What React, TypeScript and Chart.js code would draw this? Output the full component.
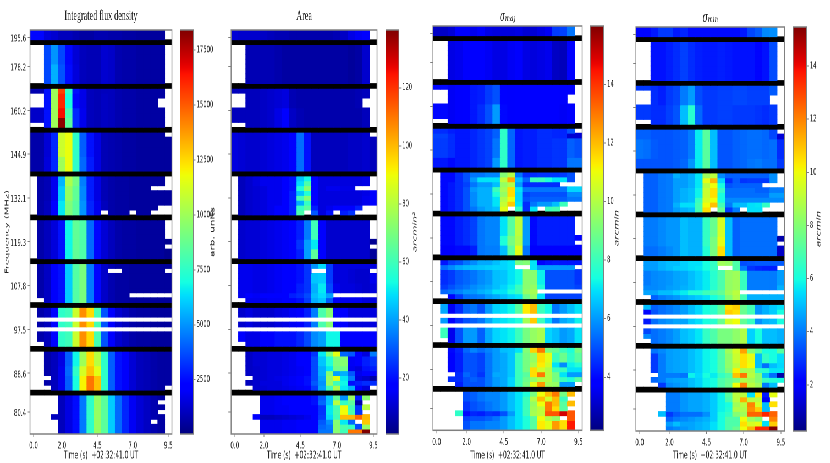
import React, { useEffect, useRef } from "react";
import { Chart, registerables } from "chart.js";
Chart.register(...registerables);

const S = 0.55;
const timeTicks = [0, 2, 4.5, 7, 9.5];
const colTimes = [0,.5,1,1.5,2,2.5,3,3.5,4,4.5,5,5.5,6,6.5,7,7.5,8,8.5,9,9.5];
const freqTickRows = [1, 7, 16, 25, 34, 43, 52, 61, 70, 78];
const freqLabels = ["195.6","178.2","160.2","144.9","132.1","119.3","107.8","97.5","88.6","80.4"];
const bandRows = [2, 11, 20, 29, 38, 47, 56, 65, 74];
// [fromRow, toRow, fromCol, toCol]: cells without a value
const missing = [[0,1,19,19],[3,10,0,1],[3,10,19,19],[12,19,19,19],[13,15,0,1],[14,15,18,18],[19,19,0,1],[21,21,19,19],[30,37,0,0],[30,31,19,19],[32,32,17,19],[36,36,18,19],[37,37,10,10],[37,37,14,14],[37,37,17,19],[39,46,0,0],[39,42,19,19],[44,44,19,19],[48,55,0,0],[49,49,11,12],[49,49,19,19],[54,54,14,19],[55,55,1,1],[57,64,0,0],[59,59,0,19],[61,61,0,19],[64,64,1,1],[66,73,0,1],[71,71,2,2],[73,73,2,2],[73,73,19,19],[75,82,0,2],[75,78,3,3],[80,82,3,3],[75,82,19,19],[76,76,18,18],[78,78,18,18],[80,80,17,17]];

// each entry: [how many rows repeat it, values by column]
const fluxK = [
[2,[2.4,2.4,1.5,1.3,1,1,.8,.6,.6,.8,.8,.7,.7,.6,.6,.5,.5,.5,.5,.5]],
[4,[0,0,3.6,5,3.6,2.4,1.4,1,.9,.9,1.3,1.2,.8,.7,.7,.6,.6,.6,.6,.6]],
[4,[0,0,3.6,5.5,3.8,2.5,1.5,1,.9,.9,1.3,1.2,.8,.7,.7,.6,.6,.6,.6,.6]],
[1,[.8,.8,2.6,10,15.5,7.5,2.6,1.7,1,.9,1,1,.8,.7,.7,.6,.6,.6,.6,.6]],
[3,[1,1,2.6,10,16,7,2.4,1.7,1,.9,1.1,1,.8,.7,.7,.6,.6,.6,.6,.6]],
[2,[1.2,1.2,2.6,10,16.5,8,3,1.8,1,.9,1.1,1,.8,.7,.7,.6,.6,.6,.6,.6]],
[2,[1.2,1.2,2.6,10,18.2,8.5,3,1.8,1,.9,1.1,1,.8,.7,.7,.6,.6,.6,.6,.6]],
[5,[.7,.7,1.4,3,11,11.7,7.5,4,2.6,1.6,.9,.8,.7,.6,.6,.5,.5,.5,.5,.5]],
[3,[.7,.7,1.5,3,10,11.7,7.5,4.2,2.8,1.6,.9,.8,.7,.6,.6,.5,.5,.5,.5,.5]],
[2,[.7,.7,.9,1.8,5.6,10.3,9,4.6,2.8,1.6,.9,.7,.6,.6,.5,.5,.5,.5,.5,.5]],
[3,[.7,.7,.9,1.8,6,9.8,8.6,4.8,2.8,1.6,.9,.7,.6,.6,.5,.5,.5,.5,.5,.5]],
[3,[.7,.7,1,2.2,6.5,9.3,8.4,5,3,1.8,1,.7,.6,.6,.5,.5,.5,.5,.5,.5]],
[8,[.7,.7,1,1.5,2.6,6.8,8.6,8.2,4.2,2.4,1.4,1,.7,.6,.6,.5,.5,.5,.5,.3]],
[8,[.7,.7,1.1,2,2.6,6,8.3,9.2,4.5,2.4,1.2,.8,.6,.6,.5,.5,.5,.5,.5,.5]],
[8,[.7,.7,1,2.4,7.5,7.8,11,14,12.5,8,3.8,2.2,1.3,1,.7,.6,.6,.5,.5,.5]],
[3,[.7,.7,.7,1,1.6,4,6.8,10,12.5,10.5,7.5,4,2.6,2,1.4,1,.9,.7,.6,.6]],
[2,[.7,.7,.7,1,1.8,4.2,7.5,11.2,13,11.5,7.5,4,2.6,2,1.4,1,.9,.7,.6,.6]],
[3,[.7,.7,.7,1,1.8,4,7,12,14.5,13,7.5,4,2.6,2,1.4,1,.9,.7,.6,.6]],
[8,[0,0,0,1,1,1.6,2.5,4.5,7.5,9.8,8.5,6,4.2,3,1.9,1.4,1.1,.8,.6,.6]],
];

const areaValues = [
[2,[11,10,10,10,9,8,7,7,6,6,6,6,6,6,7,9,13,15,16,16]],
[8,[7,7,7,7,7,7,6,5,5,5,5,5,5,5,5,5,4,5,10,10]],
[4,[8,8,8,8,9,10,11,12,7,6,6,6,6,6,6,6,6,7,8,8]],
[4,[8,8,8,8,9,10,13,16,9,7,6,6,6,6,6,6,6,6,8,8]],
[8,[12,11,10,10,11,12,13,14,16,33,20,8,8,8,8,8,9,9,10,8]],
[1,[8,8,10,12,14,14,14,16,20,45,52,16,12,12,12,12,12,12,13,12]],
[1,[8,8,10,12,14,14,14,16,20,48,62,16,12,12,12,12,12,12,13,12]],
[1,[8,8,10,11,12,14,14,16,20,55,72,16,12,14,14,13,13,13,13,12]],
[1,[8,8,10,11,12,14,14,16,22,45,55,16,12,12,12,12,12,12,13,16]],
[1,[8,8,10,11,12,14,14,18,22,60,72,16,12,12,12,12,12,12,14,17]],
[1,[8,8,10,11,12,14,14,18,22,42,58,16,12,12,12,12,12,12,14,16]],
[1,[8,8,10,11,12,14,16,18,22,58,65,22,12,14,16,16,18,22,14,14]],
[1,[8,8,10,11,12,14,16,18,22,62,65,30,12,20,20,22,25,20,14,14]],
[4,[8,10,11,11,12,13,14,15,18,22,35,60,17,10,10,10,10,10,10,10]],
[2,[8,10,11,11,12,13,14,15,18,25,40,50,17,10,10,10,10,10,10,3]],
[2,[8,10,11,11,12,13,14,15,18,22,40,65,17,10,10,10,10,10,10,4]],
[1,[8,14,14,13,13,14,15,16,18,20,25,38,48,26,12,12,12,12,12,12]],
[3,[8,14,14,13,13,14,15,16,18,20,25,45,46,26,12,12,11,10,10,14]],
[2,[8,14,14,13,13,14,15,16,18,22,25,42,50,28,14,12,12,11,10,12]],
[1,[8,14,16,15,16,16,17,18,22,24,28,44,48,40,40,12,12,12,12,12]],
[1,[8,8,14,14,14,15,15,16,18,20,26,42,45,30,15,14,14,14,12,12]],
[4,[8,10,12,10,10,10,12,13,15,16,22,35,62,72,18,18,12,12,12,12]],
[1,[8,8,10,10,10,12,13,14,15,16,20,45,60,70,22,20,14,12,12,14]],
[3,[8,18,13,13,16,16,20,20,20,23,28,37,40,52,52,18,18,16,16,16]],
[1,[0,0,9,11,11,12,12,13,14,16,18,25,50,70,88,32,30,18,12,35]],
[2,[0,0,9,11,11,12,12,13,14,16,18,28,45,55,70,72,15,18,22,25]],
[1,[0,0,9,10,11,12,12,13,14,15,18,28,42,50,68,68,14,12,20,22]],
[1,[0,0,9,10,11,12,12,13,14,15,18,28,42,72,40,42,30,14,18,18]],
[1,[0,0,9,10,11,12,13,14,15,16,20,28,40,75,88,50,35,12,10,5]],
[1,[0,0,8,10,12,12,12,14,15,16,20,30,38,75,60,52,20,22,24,24]],
[1,[0,0,9,10,11,12,12,13,14,15,18,26,40,60,78,50,42,18,12,12]],
[1,[0,0,0,0,14,14,15,16,16,16,17,20,30,45,65,38,75,22,72,0]],
[1,[0,0,0,0,14,14,15,16,16,16,17,20,32,45,80,58,65,6,60,0]],
[1,[0,0,0,0,14,14,15,15,16,16,17,18,25,50,60,90,60,25,80,0]],
[1,[0,0,0,0,14,14,15,15,16,16,17,18,25,50,62,90,62,25,60,0]],
[1,[0,0,0,18,8,8,9,10,11,12,14,18,26,48,60,100,100,112,100,0]],
[1,[0,0,0,0,14,14,14,15,15,16,17,18,30,38,72,50,32,30,98,0]],
[1,[0,0,0,0,14,14,14,15,15,16,17,18,32,35,72,62,58,28,75,0]],
[1,[0,0,0,0,14,14,14,15,15,16,17,18,34,34,72,60,110,110,140,0]],
];

const sigmaMaj = [
[2,[3,3,3.2,3.8,3.8,3.5,3.7,3.4,3.3,3.3,3.3,3.4,3.2,3.2,3.4,3.6,4.7,4.8,5.5,5]],
[8,[3,3,3.4,3.5,3.7,3.9,3.9,3.6,3.4,3.4,3.6,3.7,3.4,3.3,3.4,3.5,3,2.9,3.8,3.8]],
[4,[4,4,3.6,3.7,3.9,4.2,4.3,4.7,5,3.9,3.7,3.8,3.9,3.9,3.9,3.9,3.8,3.7,3.7,4]],
[4,[4,4,3.6,3.7,3.9,4.2,4.5,5,6,4,3.7,3.8,3.9,3.9,3.9,3.9,3.8,3.6,3.7,4]],
[1,[4.5,4.5,4.3,4.2,4.2,4.4,4.6,4.8,5.2,7.8,5.3,4.2,4.3,4.3,4.5,4.5,4.4,4.4,5,3.5]],
[1,[4.8,4.8,4.5,4.2,4.2,4.4,4.6,4.8,5.2,7.8,5.3,4.2,4.3,4.3,4.5,4.5,4.4,4.4,3.2,3.2]],
[4,[4.7,4.7,4.5,4.2,4.2,4.4,4.6,4.8,5.5,7.8,5.3,4.2,4.3,4.3,4.5,4.5,4.6,4.6,5.2,5]],
[2,[4.2,4.2,4,4.2,4.2,4.4,4.6,4.8,6,7.8,5.3,4.2,4.3,4.3,4.5,4.5,4.6,4.6,5.5,5.5]],
[1,[4,4,4,4.5,5,5.5,5.5,5.7,5.7,9.2,10,5.5,4.5,4.5,4.6,4.6,4.6,4.7,5,5]],
[1,[4,4,4,4.5,5,6,7,7,7,10.2,12.3,6.5,5.3,8,8,7.5,7,7,5,5]],
[1,[4,4,4.2,4.5,4.8,5.5,6,6,6.5,9.5,10,6,4.5,4.5,4.5,4.5,4.5,4.5,5,5]],
[1,[4,4,4.2,4.5,5,6,6.3,6.3,8,9.8,11.5,7,5.5,5.5,5.5,5.5,5.5,5.5,6.8,6.8]],
[1,[4,4,4.2,4.5,5,5.8,6.3,6.3,7.5,9.5,11.5,6.8,4.8,5,5,5,5,5,5.8,5.8]],
[1,[4,4,4.2,4.5,5,5.8,6.3,6.3,7,10,11,6.8,5,5.2,5.2,5.2,5.2,5.2,5.5,5.5]],
[1,[4,4,4.2,4.5,5,5.8,6.3,6.3,7,10.3,11.8,7,4.5,5.5,6,6,6.5,8,5.5,5.5]],
[1,[4,4,4.2,4.5,5,5.5,6,6.3,6.5,10.8,11,7.8,4.5,7,7,8,8.2,8,5.5,5.5]],
[4,[4,4,4,4.3,4.5,4.8,5.5,5.7,5.7,7,8.5,10.2,6,4,4.3,4.3,4.3,4.3,4.3,4.3]],
[2,[4,4,4,4.3,4.5,4.8,5.5,5.7,5.7,7.5,9,10,6,4,4.3,4.3,4.3,4.3,4.3,3.9]],
[2,[3.7,3.7,3.8,4,4,4.3,5.5,5.6,5.6,6.5,8.5,10.8,5.5,3.7,3.9,3.9,3.9,3.8,3.8,3.8]],
[1,[4.2,4.2,4.8,5,5.5,5.8,6.2,6.2,6.5,6.8,7,9,9.2,7,3.8,4.1,4.2,4.2,4.2,4.2]],
[1,[5.4,5.4,5.8,6.2,6.4,6.5,6.6,6.7,6.8,6.8,7,7,7,7,6,6,6,6,6,6]],
[3,[4.5,4.5,4.7,5.1,5.3,5.5,5.8,6,6.5,6.6,7,7.3,9.3,9.3,7.2,5,5,5,5,4.6]],
[1,[4.7,4.7,5,5.3,5.5,5.8,6,6.2,6.5,6.8,7.2,8,9.3,9.5,7.5,5,5,5,5,4.8]],
[1,[5.3,5.3,5.5,5.7,6,6,6.3,6.5,7,7,7.5,8,9.5,9.8,9,5,5,5,5,5]],
[1,[3.9,3.9,3.9,4.7,5.4,5.5,5.6,6,6.2,6.5,6.8,7,8.8,9.5,7,4.8,4.8,4.8,4.8,4.8]],
[2,[6,6.2,3.6,4.5,5.3,5.5,5,6,6.8,7,7.3,8.5,11.3,12,8,7.3,5.5,6,6.5,7]],
[2,[6,6,3.8,4.5,5,5.2,5.5,6.2,6.8,7,7.2,7.5,9.8,11.8,8,6.8,5.5,6.2,6.5,7.2]],
[1,[7,7,7,7,7,7,7,7,7,7,7,7,7,7,7,7,7,7,7,7]],
[3,[8,8,3.5,5,6,6,5.2,6.2,6.8,7,7.2,8,9,9.5,9.8,6.8,6.5,6,6.2,7]],
[1,[0,0,4,4.4,5.3,5.7,5.4,5.7,6,6.5,6.6,7,9.2,11.7,13,9,8.7,8,7.5,9]],
[2,[0,0,3.8,4.3,5,5,4.8,5.5,6,6.2,6.6,8,9,9.5,11.5,10.8,8,8.8,7.8,8.5]],
[1,[0,0,3.8,4.3,5,5,4.8,5.5,6,6.2,6.6,8,9,9.8,11.3,10.5,7,5.8,7.2,7.6]],
[1,[0,0,3.8,4.3,5,5,4.8,5.5,6,6.2,6.6,8,9,11.5,10.5,10,8,8,7,7]],
[1,[0,0,3.8,4.5,5.3,5,4.6,5.5,6.2,6.2,6.6,8,8.5,11.5,13,10,9,7,6,6]],
[1,[0,0,4.5,4.5,5,5.2,5,5.5,6,6.2,6.8,8,8.8,9.5,10,10,9,8,7.5,8.5]],
[1,[0,0,4,4.3,5,5,5,5.5,6,6.2,6.8,8,9,10.8,12.5,9.7,9.5,6,6,6]],
[1,[0,0,0,0,5,5.2,5.5,5.7,5.7,6,6.5,7,7.5,9,11,12,13,9,12,0]],
[1,[0,0,0,0,5,5.2,5.5,5.7,5.7,6,6.5,7,8,10,12,10.5,12,8,8,0]],
[1,[0,0,0,0,4.6,5,5.2,5.5,5.7,6,6.5,7,8,9.5,11,13,12,8.5,12,0]],
[1,[0,0,0,0,4.6,5,5.2,5.5,5.7,6,6.5,7,8,9.7,10.2,13,11.5,8.5,8,0]],
[1,[0,0,0,7.8,4,4.4,4.3,4.6,4.5,5,6,7,8,9.8,10.2,13.5,13.5,15,13.5,0]],
[1,[0,0,0,0,4.8,5,5,5.2,5.5,6,6.5,7,7.5,8.5,11,10,9.5,8,13.5,0]],
[2,[0,0,0,0,5,5.5,5.5,5.7,5.7,6,6.5,7,7.5,8.5,11.3,10.8,12.5,11.5,14.4,0]],
];

const sigmaMin = [
[2,[2.2,2.2,2.5,3,3,2.5,2.7,2.3,2.3,2.3,2.3,2.3,2.3,2.3,2.5,3.2,3.5,4.2,4.3,4]],
[8,[2.4,2.4,2.4,2.4,2.6,2.8,3.1,2.8,2.6,2.5,2.5,2.6,2.5,2.4,2.4,2.4,2.2,2.4,3.3,3.3]],
[4,[3,3,2.8,2.6,3,3.2,4,4.5,3.3,3,3,3.1,3.1,3.2,3.2,3.1,3.1,3.1,3.5,3.5]],
[4,[3,3,2.8,2.8,3.1,3.4,5,6.3,3.7,3,3,3.1,3.1,3,3,3,2.9,2.8,3,3]],
[2,[3.6,3.6,3.4,3.4,3.4,3.5,3.6,4,5.7,7.2,5,3.4,3.4,3.6,3.7,3.8,3.8,3.7,3.2,1.4]],
[4,[3.9,3.8,3.5,3.4,3.4,3.5,3.6,4,5.7,7.2,5,3.4,3.4,3.6,3.7,3.8,3.8,3.7,3.8,2.8]],
[2,[3.4,3.4,3.4,3.4,3.4,3.5,3.7,4.4,5.7,7.2,5,3.4,3.4,3.6,3.7,3.9,4,3.8,3.8,3]],
[1,[3.6,3.6,3.6,3.9,4,4.8,4.5,4.8,5.6,8.5,9,4.2,3.6,3.6,3.6,3.6,3.6,3.6,4.3,4.3]],
[1,[3.6,3.6,3.6,3.9,4,4.5,4.5,4.8,5.6,9.8,11.2,5.4,2.8,3.5,2.9,3,3,3,4.3,4.3]],
[1,[3.6,3.6,3.6,3.9,4,4.5,4.5,4.8,5.6,9,10,6,3.4,3.6,3.6,3.6,3.6,3.4,3.2,3.2]],
[1,[3.6,3.6,3.6,3.9,4,4.5,4.8,5,5.8,9.3,10.5,6.6,3.8,3.8,3.8,3.8,3.6,3.6,4,4]],
[1,[3.6,3.6,3.6,3.9,4,4.5,4.8,5,5.8,9.3,10.5,6,3.8,3.8,3.8,3.8,3.8,3.8,4.5,4.5]],
[1,[3.6,3.6,3.6,3.9,4,4.5,4.8,5,6.5,9.5,10,6,4.2,4.2,4.2,4.2,4.2,4.2,4.2,4.2]],
[1,[3.6,3.6,3.6,3.9,4,4.8,5.5,5.5,6.8,10,11,6.8,4,5,5,5.5,5.6,6.5,4.2,4.2]],
[1,[3.6,3.6,3.6,3.9,4,4.5,4.8,5,6.8,10.5,9,7.5,3,4,4,5.5,5.5,4,4.2,4.2]],
[4,[4,4,4,4.2,4.4,4.4,5,4.8,4.8,6.5,7.5,9.5,5,3.6,3.8,3.8,3.8,3.8,3.8,3.8]],
[2,[4,4,4,4.2,4.4,4.4,5,4.8,4.8,6.5,7.8,9.8,5,3.6,3.8,3.8,3.8,3.8,3.8,.8]],
[2,[3.8,3.8,3.8,4,4.2,4.4,5,4.8,4.8,6.2,7.8,10.5,5,3.6,3.8,3.8,3.8,3.8,3.8,1.2]],
[1,[4.5,4.5,4.5,4.8,5,5,5.3,5.5,5.5,6,6.5,8.5,8.3,7,3.3,3.4,3.5,3.5,3.5,3.5]],
[1,[4.5,4.5,4.5,4.8,5,5.2,5.3,5.5,5.6,6,6.5,7,7,7,4,2.9,2.7,2.6,2.6,2.6]],
[3,[4,4,4.2,4.3,4.4,4.6,4.7,5,5.3,5.7,6.3,7,8.3,8.5,6.6,4,4,4,4,4.5]],
[1,[4.2,4.2,4.2,4.3,4.5,4.6,4.8,5,5.3,5.7,6.3,7,8.3,8.5,6.6,4,4,4,4,4.8]],
[1,[4.6,4.6,4.6,5,5,5.3,5.7,6.2,6.2,6.7,7,7.4,8.5,9,9.3,8.3,6,6,6,6]],
[1,[3.6,3.6,3.6,4,4.2,4.4,4.8,5,5.2,5.5,6,6.6,8,8.8,6.8,4.8,4.8,4.8,4.8,4.8]],
[1,[5,5,3.6,3.8,4,4.2,4.5,5,5.4,6,6.4,7.3,10.5,10.8,7.5,6.8,4.4,4.8,5.2,5.5]],
[1,[2.2,2.2,3.4,3.8,4,4.2,4.5,5,5.4,6,6.4,7.3,10.8,10.5,7.5,6.8,4.4,4.8,5.2,6]],
[2,[2.5,2.5,3.8,4.2,4.4,4.6,4.6,5.2,5.5,6,6.3,7.5,9.5,10,7.4,6.6,4.3,4.8,5,6]],
[1,[4.2,4.2,3.8,4,4.2,4.5,5,5.2,5.6,6.5,7,7.8,7.8,8.2,8.8,5.3,6,5,5,4.8]],
[1,[3.2,3.2,3.8,4,4.2,4.5,5,5.2,5.6,6.5,7,7.8,7.8,8.2,8.8,5.3,6,5,5,4.8]],
[2,[4.2,4.2,3.8,4,4.2,4.5,5,5.2,5.6,6.5,7,7.8,7.8,8.2,8.8,5.3,6,5,5,4.8]],
[1,[0,0,3.9,4.2,4.5,4.6,4.7,5,5.3,5.8,6,7,8.5,9.5,11.5,8,7.2,6,6,7.2]],
[2,[0,0,3,4,4.5,4.6,4.7,5,5.3,5.8,6,7,8.2,9.3,10.5,9.8,5,6.5,6,5.5]],
[1,[0,0,3,4,4.5,4.6,4.7,5,5.3,5.8,6,7,8.2,9,10.5,10,5,3.8,5,5.4]],
[1,[0,0,3,4,4.5,4.6,4.7,5,5.3,5.8,6,7,8,10.2,8.7,8.8,6.5,6.3,5.6,5.6]],
[1,[0,0,3,4,4,4,3.9,5.8,5.4,6,5.7,6.5,7,11,12.2,9,8,5,3.8,.8]],
[1,[0,0,3.7,4,4.5,4.6,4.7,5,5.3,5.8,6,7,7.4,7.8,8.8,8.6,8,6.6,6.2,6]],
[1,[0,0,3,3,4.2,4.4,4.6,5,5.3,5.8,6,7,7.5,10,12,9,8.5,4,5,5]],
[1,[0,0,0,0,4,4,4.4,4.6,4.6,4.8,5.2,5.8,7.2,9,9,5.5,10.3,2.5,9.8,0]],
[1,[0,0,0,0,4,4,4.4,4.6,4.6,4.8,5.2,5.8,7,9,11.3,9,9,1.8,8,0]],
[1,[0,0,0,0,4,4,4.4,4.6,4.6,4.8,5.2,5.8,6,8.5,9,12,9.5,5,10.5,0]],
[1,[0,0,0,0,4,4,4.4,4.6,4.6,4.8,5.2,5.8,6.2,8.8,8.8,11.8,10.8,5,8,0]],
[1,[0,0,0,5,3,3.5,3.8,3.8,3.8,4.3,5.2,6,6.5,8,8.5,12.5,12.5,13.5,12.5,0]],
[1,[0,0,0,0,3.6,4,4.2,4.4,4.6,4.8,5.2,6,7,7,10,8.5,8,6,12,0]],
[1,[0,0,0,0,4.5,5,4.6,4.6,4.8,5,5.5,6,7,7,10.5,9.5,9.8,5.5,10.8,0]],
[1,[0,0,0,0,4,4.2,4.4,4.6,4.8,5,5.5,6,7,7.5,10,11.2,13.5,13.5,15.5,0]],
];

const fluxTicks = [2500,5000,7500,10000,12500,15000,17500];
const areaTicks = [20,40,60,80,100,120];
const majTicks = [4,6,8,10,12,14];
const minTicks = [2,4,6,8,10,12,14];

const panels = [
  { title:"Integrated flux density", rows:fluxK, mult:1000, vmin:30, vmax:18410, ticks:fluxTicks, unit:"arb. units", plot:[30,172,30,434], cb:[180,193.5], labelX:213, titleY:16, titleFont:"'Liberation Serif'", italic:false, showY:true },
  { title:"Area", rows:areaValues, mult:1, vmin:.7, vmax:139.9, ticks:areaTicks, unit:"arcmin²", plot:[231,377,30,434], cb:[385.3,398.7], labelX:415, titleY:16, titleFont:"'Liberation Serif'", italic:false, showY:false },
  { title:"σₘₐⱼ", rows:sigmaMaj, mult:1, vmin:2.19, vmax:15.99, ticks:majTicks, unit:"arcmin", plot:[433,582,26,430.3], cb:[590.3,603.7], labelX:617, titleY:17, titleFont:"'DejaVu Serif'", italic:true, showY:false },
  { title:"σₘᵢₙ", rows:sigmaMin, mult:1, vmin:.26, vmax:15.47, ticks:minTicks, unit:"arcmin", plot:[635.7,784.3,27,431], cb:[793.3,806.7], labelX:819, titleY:18, titleFont:"'DejaVu Serif'", italic:true, showY:false },
];

const lerp = (pts: number[][], t: number) => {
  for (let i = 1; i < pts.length; i++) {
    if (t <= pts[i][0]) {
      const [a, b] = [pts[i - 1], pts[i]];
      return a[1] + ((t - a[0]) / (b[0] - a[0])) * (b[1] - a[1]);
    }
  }
  return pts[pts.length - 1][1];
};
const R = [[0,0],[.35,0],[.66,1],[.89,1],[1,.5]];
const G = [[0,0],[.125,0],[.375,1],[.64,1],[.91,0],[1,0]];
const B = [[0,.5],[.11,1],[.34,1],[.65,0],[1,0]];
const jet = (t: number) => {
  const c = Math.min(1, Math.max(0, t));
  return `rgb(${Math.round(255*lerp(R,c))},${Math.round(255*lerp(G,c))},${Math.round(255*lerp(B,c))})`;
};

const GRAY = "#808080";
const frame = {
  id: "frame",
  afterDraw(chart: any) {
    const a = chart.chartArea, c = chart.ctx;
    c.save();
    c.strokeStyle = GRAY;
    c.lineWidth = 1.5;
    c.strokeRect(a.left, a.top, a.right - a.left, a.bottom - a.top);
    c.restore();
  },
};

// the colour-bar caption reads upward although its axis sits on the right
const unitLabel = {
  id: "unitLabel",
  afterDraw(chart: any, _args: any, opts: any) {
    const a = chart.chartArea, c = chart.ctx;
    c.save();
    c.translate(opts.x, (a.top + a.bottom) / 2);
    c.rotate(-Math.PI / 2);
    c.textAlign = "center";
    c.textBaseline = "middle";
    c.fillStyle = "#222";
    c.font = `${opts.italic ? "italic " : ""}10.5px 'DejaVu Sans'`;
    c.fillText(opts.text, 0, 0);
    c.restore();
  },
};

const isMissing = (r: number, c: number) =>
  missing.some(([r0, r1, c0, c1]) => r >= r0 && r <= r1 && c >= c0 && c <= c1);

function buildDatasets(p: any) {
  const expanded: number[][] = [];
  p.rows.forEach(([n, row]: any) => { for (let i = 0; i < n; i++) expanded.push(row); });
  const out: any[] = [];
  let next = 0;
  for (let r = 0; r < 83; r++) {
    const band = bandRows.includes(r);
    const row = band ? null : expanded[next++];
    const data: any[] = [], colors: string[] = [];
    colTimes.forEach((t, c) => {
      if (band) { data.push({ x: t, y: [r - .5, r + .5] }); colors.push("#000"); return; }
      if (isMissing(r, c) || !row) return;
      const v = row[c] * p.mult;
      data.push({ x: t, y: [r - .5, r + .5] });
      colors.push(jet((v - p.vmin) / (p.vmax - p.vmin)));
    });
    out.push({ data, backgroundColor: colors, borderWidth: 0, inflateAmount: 0.4, barPercentage: 1, categoryPercentage: 1, grouped: false });
  }
  return out;
}

const boxes = panels.flatMap((p, i) => [
  { kind: "map", i, left: i === 0 ? 0 : p.plot[0] - 10, right: p.plot[1] + 3 },
  { kind: "bar", i, left: p.cb[0], right: p.labelX + 5 },
]);

export default function App() {
  const refs = useRef<(HTMLCanvasElement | null)[]>([]);
  useEffect(() => {
    document.body.style.margin = "0";
    document.body.style.background = "#fff";
    const charts = boxes.map((b, idx) => {
      const p: any = panels[b.i];
      const canvas = refs.current[idx]!;
      const [pl, pr, pt, pb] = p.plot;
      const leftPad = p.showY ? 3.7 / S : 0;
      if (b.kind === "map") {
        return new Chart(canvas, {
          type: "bar",
          data: { datasets: buildDatasets(p) },
          plugins: [frame],
          options: {
            animation: false, responsive: false, devicePixelRatio: 2,
            layout: { padding: { left: leftPad, right: 3 / S, top: 0, bottom: 1 } },
            plugins: {
              legend: { display: false }, tooltip: { enabled: false },
              title: { display: true, text: p.title, fullSize: false, color: "#222",
                font: { family: p.titleFont, size: 14.7, lineHeight: 1, style: p.italic ? "italic" : "normal", weight: "normal" },
                padding: { top: p.titleY - 7, bottom: pt - p.titleY - 7.7 } },
            },
            scales: {
              x: { type: "linear", offset: false, min: -.25, max: 9.75,
                grid: { offset: false, drawOnChartArea: false, tickLength: 3, tickColor: GRAY },
                border: { display: false },
                ticks: { autoSkip: false, maxRotation: 0, color: "#222", padding: 3, font: { family: "'DejaVu Sans'", size: 10 }, callback: (v: any) => Number(v).toFixed(1) },
                title: { display: true, text: "Time (s)  +02:32:41.0 UT", color: "#222", padding: 0, font: { family: "'DejaVu Sans'", size: 10.7 } },
                afterBuildTicks: (s: any) => { s.ticks = timeTicks.map((value) => ({ value })); },
                afterFit: (s: any) => { s.height = 462 - pb; s.paddingLeft = 0; s.paddingRight = 0; },
              },
              y: { type: "linear", reverse: true, min: -.5, max: 82.5,
                grid: { drawOnChartArea: false, tickLength: 5, tickColor: GRAY },
                border: { display: false },
                ticks: { autoSkip: false, color: "#222", padding: 2, labelOffset: 1.5, font: { family: "'DejaVu Sans'", size: 10 },
                  callback: (v: any) => { const k = freqTickRows.indexOf(v); return p.showY && k >= 0 ? freqLabels[k] : ""; } },
                title: { display: p.showY, text: "Frequency (MHz)", color: "#222", padding: 0, font: { family: "'DejaVu Sans'", size: 10 } },
                afterBuildTicks: (s: any) => { s.ticks = freqTickRows.map((value) => ({ value })); },
                afterFit: (s: any) => { s.width = (pl - b.left) / S - leftPad; s.paddingTop = 0; s.paddingBottom = 0; },
              },
            },
          },
        } as any);
      }
      return new Chart(canvas, {
        type: "bar",
        data: { datasets: [{ data: [{ x: 0, y: [p.vmin, p.vmax] }], borderWidth: 0, barPercentage: 1, categoryPercentage: 1,
          backgroundColor: (ctx: any) => {
            const a = ctx.chart.chartArea;
            if (!a) return "#00f";
            const g = ctx.chart.ctx.createLinearGradient(0, a.bottom, 0, a.top);
            for (let k = 0; k <= 64; k++) g.addColorStop(k / 64, jet(k / 64));
            return g;
          } }] },
        plugins: [frame, unitLabel],
        options: {
          animation: false, responsive: false, devicePixelRatio: 2,
          layout: { padding: { left: 0, right: 0, top: pt, bottom: 463 - pb } },
          plugins: { legend: { display: false }, tooltip: { enabled: false },
            unitLabel: { text: p.unit, italic: p.unit !== "arb. units", x: (p.labelX - b.left) / S } },
          scales: {
            x: { type: "linear", display: false, offset: false, min: -.5, max: .5 },
            y: { type: "linear", position: "right", min: p.vmin, max: p.vmax,
              grid: { drawOnChartArea: false, tickLength: 4, tickColor: GRAY },
              border: { display: false },
              ticks: { autoSkip: false, color: "#222", padding: 2, font: { family: "'DejaVu Sans'", size: 9.5 }, callback: (v: any) => String(v) },
              afterBuildTicks: (s: any) => { s.ticks = p.ticks.map((value: number) => ({ value })); },
              afterFit: (s: any) => { s.width = (b.right - p.cb[1]) / S; s.paddingTop = 0; s.paddingBottom = 0; },
            },
          },
        },
      } as any);
    });
    return () => charts.forEach((c) => c.destroy());
  }, []);
  return (
    <div style={{ position: "fixed", left: 0, top: 0, width: 830 / S, height: 463, transform: `scaleX(${S})`, transformOrigin: "0 0", background: "#fff" }}>
      {boxes.map((b, idx) => (
        <canvas key={idx} ref={(el) => { refs.current[idx] = el; }}
          width={Math.round((b.right - b.left) / S)} height={463}
          style={{ position: "absolute", left: b.left / S, top: 0 }} />
      ))}
    </div>
  );
}
